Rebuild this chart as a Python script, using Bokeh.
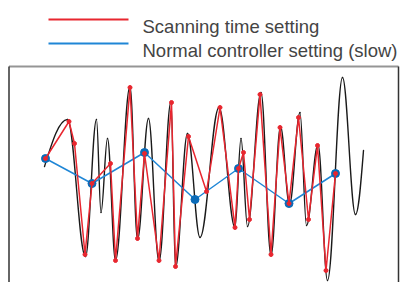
from bokeh.plotting import figure
from bokeh.models import Range1d
from bokeh.core.properties import value
from bokeh.embed import file_html
from bokeh.resources import INLINE

# ---- data (time in samples, signal in arbitrary units) ----
# extrema of the continuous (black) signal, plus its start and end points
sig_t = [-1, 22, 40, 51, 55.5, 62, 70, 84.5, 92, 103, 113.5, 125.5, 130, 142,
         154.5, 173.5, 189.5, 195.5, 202, 215.5, 225.5, 235, 244, 254.5, 261,
         272.5, 282, 297, 310, 318]
sig_v = [-6, 41, -96, 41, -52, 22, -100, 74, -79, 42, -101, 59, -107, 27,
         -77, 53, -67, 22, -66, 68, -95, 34, -44, 48, -65, 16,
         -120, 83, -54, 10]

# scanning time setting samples (red)
scan_t = [0, 23.5, 29, 39.5, 46.5, 65, 70, 84.5, 92, 99, 113.5, 126, 130, 143,
          161, 174.5, 189.5, 193, 198, 204, 214.5, 225.5, 234.5, 243.5, 253,
          263, 272, 280.5, 290]
scan_v = [2, 39, 17, -94, -23, -3, -100, 73, -78, 7, -100, 58, -106, 24,
          -31, 53, -67, -8, 8, -59, 66, -94, 33, -43, 43,
          -59, 15, -110, -13]

# normal controller setting (slow) samples (blue)
slow_t = [0, 46.5, 99, 149.5, 193, 243.5, 290]
slow_v = [2, -23, 8, -39, -8, -43, -13]

labels = ["Scanning time setting", "Normal controller setting (slow)"]

RED = "#e8262f"
BLUE = "#1f86d6"
BLUE_DOT = "#0b6bb8"

X0, X1 = -45, 355
Y0, Y1 = -122, 160
FL, FR, FT = -36.5, 353, 94

p = figure(width=400, height=282, output_backend="svg", toolbar_location=None,
           x_range=Range1d(X0, X1), y_range=Range1d(Y0, Y1),
           min_border=0, outline_line_color=None, background_fill_color="white",
           border_fill_color="white")
p.axis.visible = False
p.grid.visible = False

# smooth black signal built from its extrema with cubic Bezier segments
bx0, by0, bx1, by1, bcx0, bcy0, bcx1, bcy1 = [], [], [], [], [], [], [], []
n = len(sig_t)
for i in range(n - 1):
    t0, v0, t1, v1 = sig_t[i], sig_v[i], sig_t[i + 1], sig_v[i + 1]
    dt, dv = t1 - t0, v1 - v0
    if i == 0:
        c0 = (t0 + 0.33 * dt, v0 + 0.52 * dv)
        c1 = (t1 - 0.37 * dt, v1)
    elif i == n - 2:
        c0 = (t0 + 0.37 * dt, v0)
        c1 = (t1 - 0.33 * dt, v1 - 0.52 * dv)
    else:
        c0 = (t0 + 0.37 * dt, v0)
        c1 = (t1 - 0.37 * dt, v1)
    bx0.append(t0); by0.append(v0); bx1.append(t1); by1.append(v1)
    bcx0.append(c0[0]); bcy0.append(c0[1]); bcx1.append(c1[0]); bcy1.append(c1[1])

p.bezier(x0=bx0, y0=by0, x1=bx1, y1=by1, cx0=bcx0, cy0=bcy0, cx1=bcx1, cy1=bcy1,
         line_color="#1a1a1a", line_width=1.4, line_cap="round")

# slow controller
p.line(slow_t, slow_v, line_color=BLUE, line_width=1.5)
p.scatter(slow_t, slow_v, size=8, fill_color=BLUE_DOT, line_color=BLUE_DOT)

# scanning time
p.line(scan_t, scan_v, line_color=RED, line_width=1.5)
p.scatter(scan_t, scan_v, size=4, fill_color=RED, line_color=RED)

# frame (top grey, sides dark; bottom runs off the page)
p.segment(x0=[FL], y0=[FT], x1=[FR], y1=[FT], line_color="#959595", line_width=2)
p.segment(x0=[FL, FR], y0=[FT, FT], x1=[FL, FR], y1=[Y0, Y0],
          line_color="#333333", line_width=1.5)

# legend
p.segment(x0=[3, 3], y0=[141, 117], x1=[83, 83], y1=[141, 117],
          line_color=[RED, BLUE], line_width=2.2)
p.text(x=[97, 97], y=[134, 110], text=labels, text_font=value("Liberation Sans"),
       text_font_size="18.5px", text_color="#444444", text_baseline="alphabetic",
       text_align="left")

open("out.html", "w").write(file_html(p, INLINE))
